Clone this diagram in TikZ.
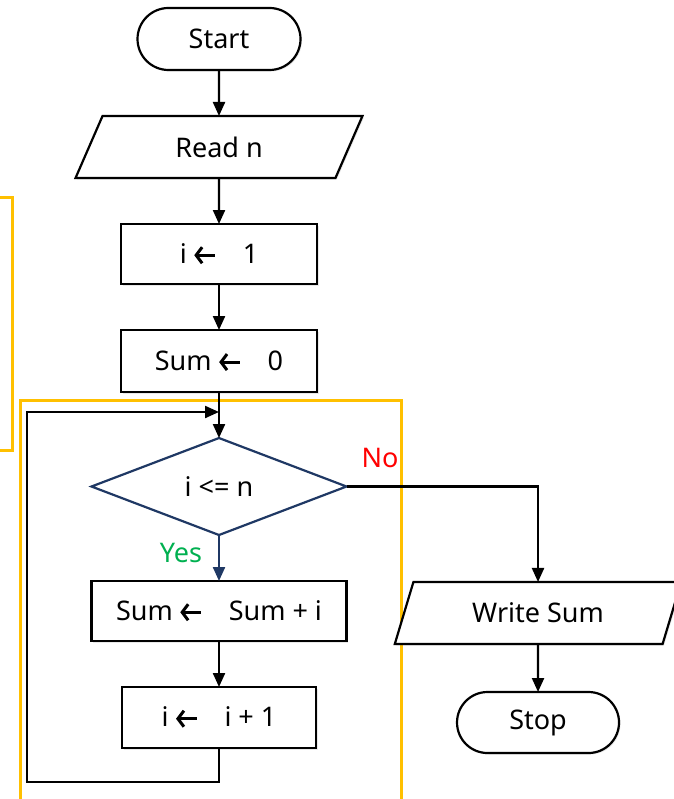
\documentclass[tikz,border=0pt]{standalone}
\usepackage{fontspec}
\setmainfont{Noto Sans}
\usepackage{tikz}
\usetikzlibrary{arrows.meta,positioning,shapes.geometric,shapes.misc,shadows}

\definecolor{flownavy}{HTML}{1F3864}
\definecolor{frameorange}{HTML}{FFC000}
\definecolor{yesgreen}{HTML}{00B050}
\definecolor{nored}{HTML}{FF0000}

% thick left arrow used for assignments
\newcommand{\getsarrow}{\tikz[baseline=0pt]\draw[line width=3pt,{Straight Barb[length=6pt,width=16pt,line width=3pt]}-] (0pt,8pt) -- (21pt,8pt);}

\begin{document}
\begin{tikzpicture}[x=1pt,y=-1pt,>={Triangle[length=14pt,width=12pt]},line width=2.2pt,node distance=46pt,
	font=\fontsize{27}{32}\selectfont,
	shade/.style={fill=white,drop shadow={opacity=0.18,shadow xshift=1.5pt,shadow yshift=-1.5pt}},
	terminal/.style={rounded rectangle,draw,shade,minimum width=163pt,minimum height=62pt,inner sep=0pt,outer sep=0pt},
	io/.style={trapezium,trapezium left angle=64,trapezium right angle=116,trapezium stretches=true,
		draw,shade,minimum width=287pt,minimum height=62pt,inner sep=0pt,outer sep=0pt},
	process/.style={rectangle,draw,shade,minimum height=61pt,inner sep=0pt,outer sep=0pt},
	decision/.style={diamond,draw=flownavy,fill=white,minimum width=255pt,minimum height=97pt,inner sep=0pt,outer sep=0pt},
	frame/.style={draw=frameorange,line width=3pt}]
	\useasboundingbox (0,0) rectangle (673,799);

	% loop frames
	\begin{scope}
		\clip (0,0) rectangle (673,799);
		\draw[frame] (-10,198) -- (12,198) -- (12,450) -- (-10,450);
		\draw[frame] (20,400) rectangle (401,830);
	\end{scope}

	\node (start) [terminal] at (219,39) {Start};
	\node (read) [io] [below=of start] {Read n};
	\node (init) [process,minimum width=196pt,minimum height=60pt] [below=of read]
		{i\hspace{6pt}\getsarrow\hspace{26pt}1};
	\node (sumzero) [process,minimum width=196pt,minimum height=62pt] [below=of init]
		{Sum\hspace{6pt}\getsarrow\hspace{26pt}0};
	\node (cond) [decision] [below=of sumzero] {i <= n};
	\node (sumadd) [process,minimum width=255pt,minimum height=60pt] [below=of cond]
		{Sum\hspace{6pt}\getsarrow\hspace{26pt}Sum + i};
	\node (incr) [process,minimum width=194pt] [below=of sumadd]
		{i\hspace{6pt}\getsarrow\hspace{26pt}i + 1};
	\node (write) [io] at (538,613) {Write Sum};
	\node (stop) [terminal,minimum width=162pt,minimum height=61pt] [below=48pt of write] {Stop};

	\node (yes) [text=yesgreen] at (181,553) {Yes};
	\node (no) [text=nored] at (380,458) {No};

	\coordinate (loopcorner) at (27,782);
	\coordinate (loopjoin) at (219,412);

	\draw[->] (start) -- (read);
	\draw[->] (read) -- (init);
	\draw[->] (init) -- (sumzero);
	\draw[->] (sumzero) -- (cond);
	\draw[->,flownavy] (cond) -- (sumadd);
	\draw[->] (sumadd) -- (incr);
	\draw[->] (incr.south) |- (loopcorner) |- (loopjoin);
	\draw[->] (cond.east) -| (write.north);
	\draw[->] (write) -- (stop);
\end{tikzpicture}
\end{document}
